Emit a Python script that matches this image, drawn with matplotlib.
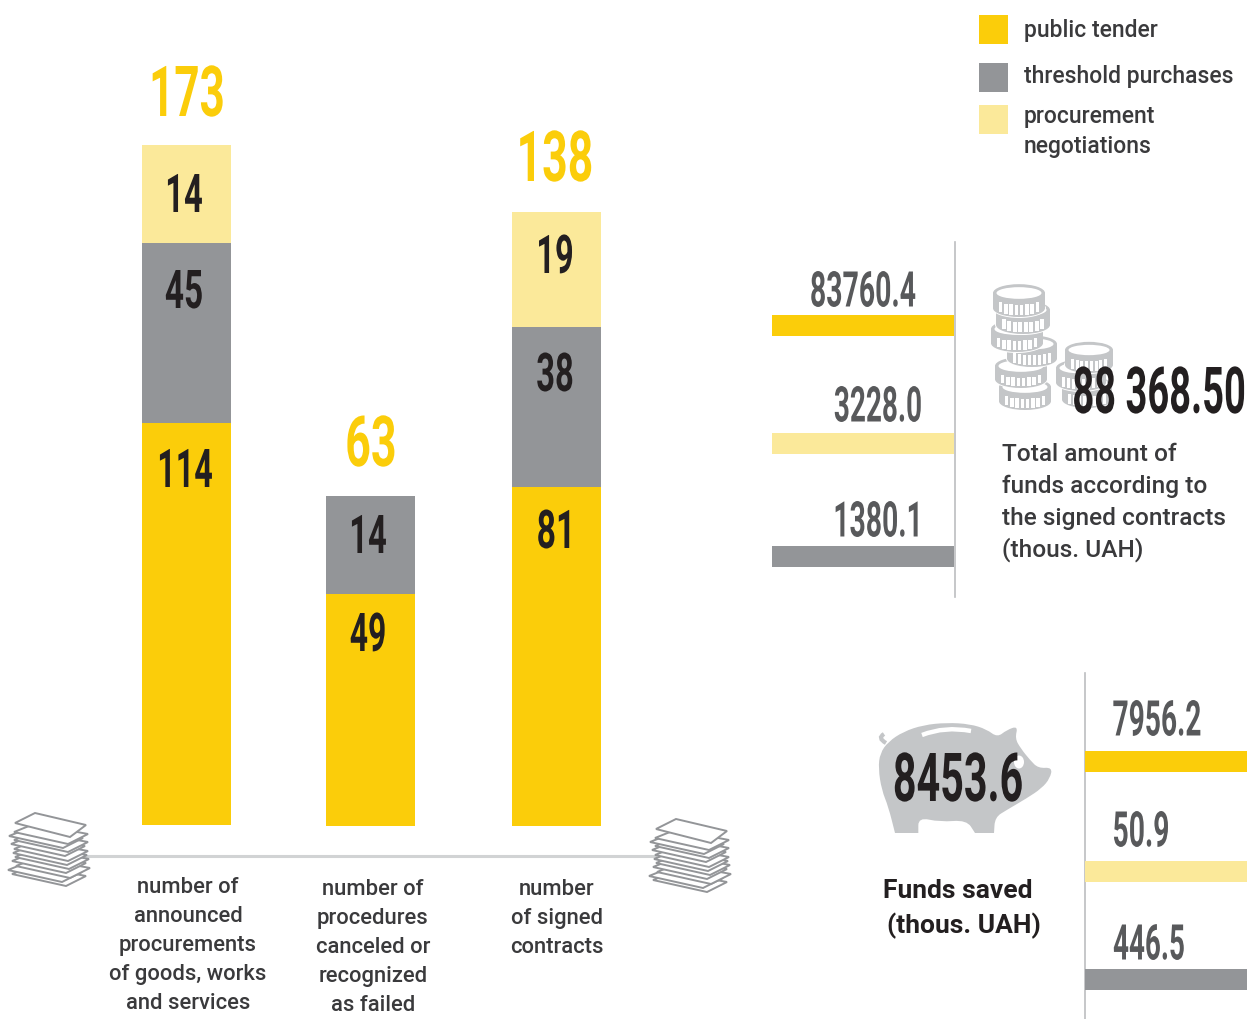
import matplotlib
matplotlib.use("Agg")
import matplotlib.pyplot as plt
from matplotlib.patches import Ellipse, PathPatch, Polygon, Rectangle
from matplotlib.path import Path
from matplotlib.patheffects import AbstractPathEffect
from matplotlib.textpath import TextPath
from matplotlib.font_manager import FontProperties
from matplotlib.transforms import Affine2D

YELLOW = "#fbcd0a"
GRAY = "#939598"
LIGHT = "#fbe99a"
DARK = "#231f20"
MID = "#58595b"
ICON = "#c4c6c8"

BODY_FONT = "Roboto"

# legend
legend_labels = ["public tender", "threshold purchases", "procurement\nnegotiations"]

# stacked columns: printed values
categories = [
    "number of\nannounced\nprocurements\nof goods, works\nand services",
    "number of\nprocedures\ncanceled or\nrecognized\nas failed",
    "number\nof signed\ncontracts",
]
totals = [173, 63, 138]
public_tender = [114, 49, 81]
threshold = [45, 14, 38]
negotiations = [14, 0, 19]
# the source is an infographic, segment heights are not to scale with the values
public_heights = [402, 232, 339]
threshold_heights = [180, 98, 160]
negotiation_heights = [98, 0, 115]

# horizontal bars, all drawn the same length in the source
contract_values = [83760.4, 3228.0, 1380.1]
contract_total = "88 368.50"
contract_text = ["Total amount of", "funds according to", "the signed contracts", "(thous. UAH)"]
saved_values = [7956.2, 50.9, 446.5]
saved_total = "8453.6"
saved_text = ["Funds saved", "(thous. UAH)"]


class Squeeze(AbstractPathEffect):
    # narrows glyphs around a pixel x, no condensed font is installed
    def __init__(self, cx, sx):
        super().__init__()
        self.cx = cx
        self.sx = sx

    def draw_path(self, renderer, gc, tpath, affine, rgbFace=None):
        squeeze = Affine2D().translate(-self.cx, 0).scale(self.sx, 1).translate(self.cx, 0)
        renderer.draw_path(gc, tpath, affine + squeeze, rgbFace)


fig = plt.figure(figsize=(12.48, 10.2), dpi=100)
ax = fig.add_axes([0, 0, 1, 1])
ax.set_xlim(0, 1248)
ax.set_ylim(1019, -1)
ax.axis("off")


def big(x, y, s, h, w, color=DARK, ha="center"):
    # x, y = centre of the number in pixels (right edge if ha is right), h = digit height, w = printed width
    size = h / 0.711 * 0.72
    prop = FontProperties(family="Roboto", weight="bold", size=size)
    ext = TextPath((0, 0), s, prop=prop).get_extents()
    natural = ext.width * 100 / 72
    t = ax.text(x, y + h / 2, s, fontproperties=prop, color=color, ha=ha, va="baseline", zorder=10)
    t.set_path_effects([Squeeze(x, w / natural)])


def body(x, y, s, ha="left", weight=500, color="#3a3a3c", size=15.8):
    ax.text(x, y, s, family=BODY_FONT, fontsize=size, weight=weight, color=color, ha=ha, va="center", zorder=10)


def coin(cx, top, rx, bottom):
    ry = rx * 0.34
    ax.add_patch(Ellipse((cx, bottom - ry), 2 * rx + 2, 2 * ry + 2, fc="white", ec="none", zorder=3))
    ax.add_patch(Ellipse((cx, bottom - ry), 2 * rx, 2 * ry, fc=ICON, ec="none", zorder=3))
    ax.add_patch(Rectangle((cx - rx, top), 2 * rx, bottom - ry - top, fc=ICON, ec="none", zorder=3))
    ax.add_patch(Ellipse((cx, top), 2 * rx, 2 * ry, fc=ICON, ec="none", zorder=3))
    ax.add_patch(Ellipse((cx, top), 2 * rx - 7, 2 * ry - 6, fc="white", ec="none", zorder=3))
    n = 8
    step = (2 * rx - 10) / n
    for i in range(n):
        x0 = cx - rx + 5 + i * step
        u = (x0 + step / 2 - cx) / rx
        ymid = top + ry * (1 - u * u) ** 0.5 + 3
        ax.add_patch(Rectangle((x0 + 0.8, ymid), step - 1.8, bottom - ry - top - 5, fc="white", ec="none", zorder=3))


def sheets(dx, dy):
    offsets = [(4, 47), (0, 43), (8, 39), (4, 34), (7, 30), (5, 26), (6, 22), (3, 17), (6, 13), (1, 9), (6, 5)]
    for ox, oy in offsets:
        xs = [20 + ox, 74 + ox, 54 + ox, 0 + ox]
        ys = [6 + oy, 16 + oy, 26 + oy, 14 + oy]
        ax.add_patch(Polygon([(dx + a, dy + b) for a, b in zip(xs, ys)], fc="white", ec="#939598", lw=1.4, zorder=3))
    ax.add_patch(Polygon([(dx + 27, dy), (dx + 78, dy + 12), (dx + 62, dy + 24), (dx + 7, dy + 10)], fc="white", ec="#939598", lw=1.4, zorder=3))


def smooth_closed(points):
    mids = [((points[i][0] + points[(i + 1) % len(points)][0]) / 2, (points[i][1] + points[(i + 1) % len(points)][1]) / 2) for i in range(len(points))]
    verts = [mids[-1]]
    codes = [Path.MOVETO]
    for i, p in enumerate(points):
        verts += [p, mids[i]]
        codes += [Path.CURVE3, Path.CURVE3]
    return Path(verts, codes)


def pig():
    z = [(55, 175), (60, 130), (85, 95), (130, 65), (190, 45), (260, 38), (330, 42), (380, 58), (412, 82), (440, 60),
         (474, 48), (465, 85), (482, 115), (510, 150), (535, 175), (577, 172), (570, 205), (545, 235), (500, 265),
         (440, 300), (405, 322), (402, 369), (402, 369), (345, 369), (345, 369), (320, 330), (240, 336), (175, 322),
         (175, 369), (175, 369), (105, 369), (105, 369), (85, 290), (65, 240)]
    pts = [(860 + a / 3, 710 + b / 3) for a, b in z]
    ax.add_patch(PathPatch(smooth_closed(pts), fc=ICON, ec="none", zorder=3))
    tail = Path([(886, 743), (877, 738), (884, 734)], [Path.MOVETO, Path.CURVE3, Path.CURVE3])
    ax.add_patch(PathPatch(tail, fc="none", ec=ICON, lw=3, zorder=3))
    slot = Path([(922, 735), (945, 726), (971, 731)], [Path.MOVETO, Path.CURVE3, Path.CURVE3])
    ax.add_patch(PathPatch(slot, fc="none", ec="white", lw=3.2, zorder=4))
    ax.add_patch(Ellipse((1019, 762), 10, 13, fc="white", ec="none", zorder=4))


# legend
legend_colors = [YELLOW, GRAY, LIGHT]
legend_tops = [15, 63, 105]
ax.bar([993.5] * 3, [29] * 3, width=29, bottom=legend_tops, color=legend_colors, zorder=2)
body(1024, 30, legend_labels[0], size=16.5)
body(1024, 75, legend_labels[1], size=16.5)
for i, line in enumerate(legend_labels[2].split("\n")):
    body(1024, 116 + i * 29, line, size=16.5)

# stacked columns
col_x = [186.5, 370.5, 556.5]
base = [825, 826, 826]
tops1 = [b - h for b, h in zip(base, public_heights)]
tops2 = [t - h for t, h in zip(tops1, threshold_heights)]
tops3 = [t - h for t, h in zip(tops2, negotiation_heights)]
ax.bar(col_x, public_heights, width=89, bottom=tops1, color=YELLOW, zorder=2)
ax.bar(col_x, threshold_heights, width=89, bottom=tops2, color=GRAY, zorder=2)
ax.bar(col_x, negotiation_heights, width=89, bottom=tops3, color=LIGHT, zorder=2)

big(187, 91, str(totals[0]), 50, 70, YELLOW)
big(371, 441, str(totals[1]), 50, 47, YELLOW)
big(555, 156, str(totals[2]), 50, 71, YELLOW)
big(185, 468, str(public_tender[0]), 38, 52)
big(368, 632, str(public_tender[1]), 38, 34)
big(556, 529, str(public_tender[2]), 38, 31)
big(184, 289, str(threshold[0]), 38, 36)
big(368, 534, str(threshold[1]), 38, 34)
big(555, 372, str(threshold[2]), 38, 35)
big(184, 193, str(negotiations[0]), 38, 34)
big(555, 254, str(negotiations[2]), 38, 33)

# base line and paper stacks
ax.plot([85, 655], [856, 856], color="#d1d3d4", lw=2.2, zorder=1)
sheets(8, 813)
sheets(649, 819)

label_x = [188, 373, 557]
label_y = [887, 889, 889]
for x, y, label in zip(label_x, label_y, categories):
    for i, line in enumerate(label.split("\n")):
        body(x, y + i * 28.8, line, ha="center")

# contracts block
contract_colors = [YELLOW, LIGHT, GRAY]
contract_y = [325, 443.5, 556.5]
ax.barh(contract_y, [182] * 3, height=21, left=772, color=contract_colors, zorder=2)
ax.plot([954.5, 954.5], [242, 597], color="#bcbec0", lw=1.2, zorder=1)
big(863, 289, f"{contract_values[0]:.1f}", 35, 104, MID)
big(878, 404, f"{contract_values[1]:.1f}", 35, 86, MID)
big(878, 519, f"{contract_values[2]:.1f}", 35, 82, MID)

coin(1087, 385, 25, 408)
coin(1081, 368, 25, 391)
coin(1089, 350, 24, 373)
coin(1025, 387, 26, 410)
coin(1021, 366, 26, 388)
coin(1032, 344, 25, 367)
coin(1017, 329, 26, 352)
coin(1023, 310, 27, 334)
coin(1019, 293, 26, 317)
big(1246, 390, contract_total, 46, 170, ha="right")
for i, line in enumerate(contract_text):
    body(1002, 454 + i * 31.6, line, size=17.6)

# funds saved block
ax.barh([761.5, 871.5, 979.5], [162] * 3, height=21, left=1085, color=contract_colors, zorder=2)
ax.plot([1085, 1085], [673, 1020], color="#bcbec0", lw=1.2, zorder=1)
big(1157, 718, f"{saved_values[0]:.1f}", 35, 87, MID)
big(1141, 829, f"{saved_values[1]:.1f}", 35, 54, MID)
big(1149, 942, f"{saved_values[2]:.1f}", 35, 70, MID)

pig()
big(958, 777, saved_total, 48, 127)
body(958, 890, saved_text[0], ha="center", weight="bold", color=DARK, size=19)
body(964, 925, saved_text[1], ha="center", weight="bold", color=DARK, size=19)

fig.savefig("out.png", dpi=100, facecolor="white")
